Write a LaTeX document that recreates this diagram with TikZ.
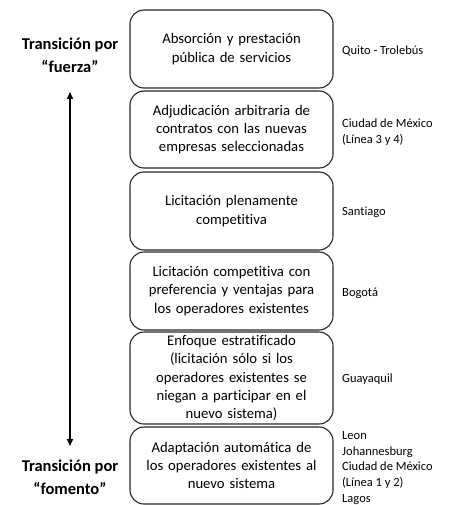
\documentclass[tikz,border=0pt]{standalone}
\usepackage{fontspec}
\setmainfont[Ligatures=NoCommon]{Carlito}
\usetikzlibrary{arrows.meta}
\begin{document}
\begin{tikzpicture}[x=1pt,y=-1pt,
  stage/.style={draw=black!85,line width=1.1pt,rounded corners=14pt,minimum width=203pt,inner sep=0pt,
    align=center,font=\fontsize{14.7}{18.3}\selectfont,text width=197pt},
  city/.style={anchor=west,align=left,font=\fontsize{12.5}{15.8}\selectfont,inner sep=0pt},
  side/.style={align=center,font=\fontsize{16.5}{23}\selectfont\bfseries,inner sep=0pt},
  axis/.style={line width=1.6pt,{Triangle[length=7pt,width=6pt]}-{Triangle[length=7pt,width=6pt]}}]
\useasboundingbox (0,0) rectangle (452,505);
\node[stage,minimum height=78pt] (b1) at (231.5,49) {\raisebox{-3pt}{\parbox{197pt}{\centering Absorción y prestación\\pública de servicios}}};
\node[stage,minimum height=77pt] (b2) at (231.5,129.5) {Adjudicación arbitraria de\\contratos con las nuevas\\empresas seleccionadas};
\node[stage,minimum height=78pt] (b3) at (231.5,211) {Licitación plenamente\\competitiva};
\node[stage,minimum height=78pt] (b4) at (231.5,291) {Licitación competitiva con\\preferencia y ventajas para\\los operadores existentes};
\node[stage,minimum height=92pt] (b5) at (231.5,378) {Enfoque estratificado\\(licitación sólo si los\\operadores existentes se\\niegan a participar en el\\nuevo sistema)};
\node[stage,minimum height=77pt] (b6) at (231.5,465.5) {Adaptación automática de\\los operadores existentes al\\nuevo sistema};
\node[city] (c1) at (342,51) {Quito - Trolebús};
\node[city] (c2) at (342,132) {Ciudad de México\\(Línea 3 y 4)};
\node[city] (c3) at (342,212) {Santiago};
\node[city] (c4) at (342,293) {Bogotá};
\node[city] (c5) at (342,379) {Guayaquil};
\node[city] (c6) at (342,468) {Leon\\Johannesburg\\Ciudad de México\\(Línea 1 y 2)\\Lagos};
\node[side] (top) at (70,55) {Transición por\\“fuerza”};
\node[side] (bot) at (70,477) {Transición por\\“fomento”};
\coordinate (a1) at (70,92);
\coordinate (a2) at (70,446);
\draw[axis] (a2) -- (a1);
\end{tikzpicture}
\end{document}
